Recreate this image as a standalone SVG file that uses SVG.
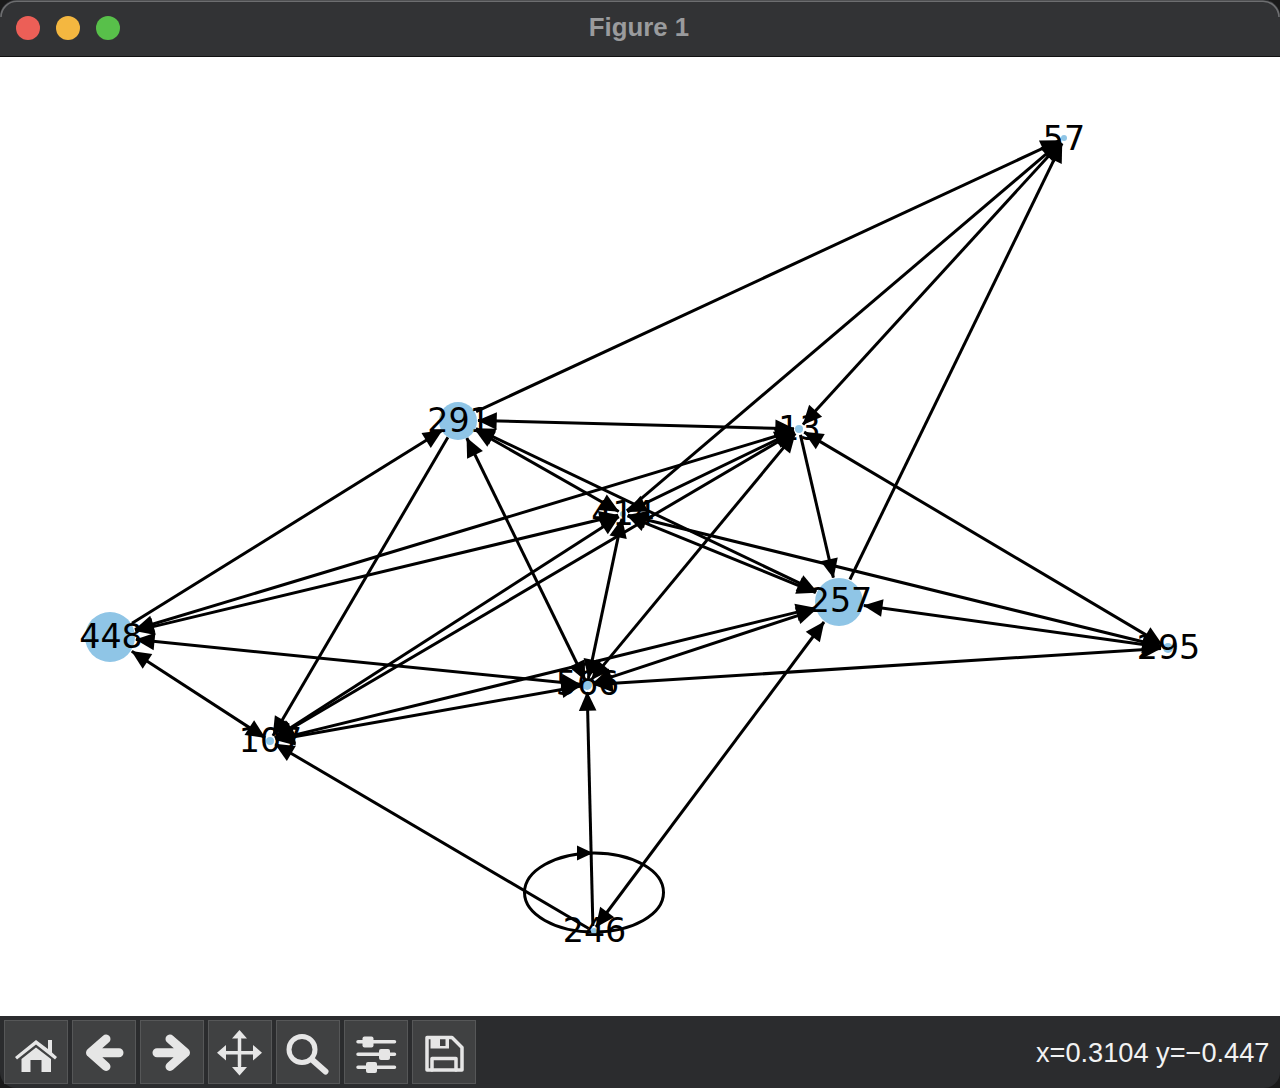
<svg xmlns="http://www.w3.org/2000/svg" width="1280" height="1088" viewBox="0 0 1280 1088">
<style>
.e{stroke:#000;stroke-width:3;fill:none}
.b{marker-start:url(#h);marker-end:url(#h)}
.o{marker-end:url(#h)}
.n{fill:#8fc5e6}
.l{font-family:"DejaVu Sans",sans-serif;font-size:33.3px;fill:#000;text-anchor:middle}
.btn{fill:#404142;stroke:#565758;stroke-width:1}
.ic{fill:#e6e6e6}
.is{stroke:#e6e6e6;fill:none;stroke-linecap:round;stroke-linejoin:round}
</style>
<defs>
<marker id="h" markerUnits="userSpaceOnUse" markerWidth="22" markerHeight="22" viewBox="-1 -10 20 20" refX="17" refY="0" orient="auto-start-reverse"><path d="M0,-8 L17.5,0 L0,8z" fill="#000"/></marker>
</defs>
<rect width="1280" height="1088" fill="#1a1a1a"/>
<rect x="0" y="0" width="1280" height="1088" rx="16" fill="#2b2c2e"/>
<path id="titlebar" d="M0,56V16A16,16 0 0 1 16,0H1264A16,16 0 0 1 1280,16V56Z" fill="#323335"/>
<path d="M1,17A16,16 0 0 1 17,1.2H1263A16,16 0 0 1 1279,17" fill="none" stroke="#6d6e70" stroke-width="1.6"/>
<rect x="0" y="56" width="1280" height="1.5" fill="#111"/>
<circle cx="28" cy="28" r="12" fill="#ec5f57"/>
<circle cx="68" cy="28" r="12" fill="#f4b740"/>
<circle cx="108" cy="28" r="12" fill="#58c04a"/>
<text x="639" y="36" font-family="'Liberation Sans',sans-serif" font-weight="700" font-size="25.8" fill="#9a9b9d" text-anchor="middle">Figure 1</text>
<rect x="0" y="57" width="1280" height="959" fill="#fff"/>

<g id="connectors">
<line class="e o" x1="476.1" y1="411.6" x2="1059.6" y2="140.5"/>
<line class="e o" x1="626.8" y1="510.8" x2="1060.4" y2="141.9"/>
<line class="e b" x1="803" y1="424.6" x2="1061" y2="142.4"/>
<line class="e o" x1="849.9" y1="579.5" x2="1062" y2="143.4"/>
<line class="e b" x1="478" y1="420.5" x2="794" y2="428.8"/>
<line class="e o" x1="132" y1="623.2" x2="442" y2="430.6"/>
<line class="e o" x1="447.9" y1="437.3" x2="273" y2="735.8"/>
<line class="e b" x1="585" y1="680" x2="466.8" y2="438"/>
<line class="e b" x1="475.4" y1="429.9" x2="618.7" y2="511.5"/>
<line class="e b" x1="476" y1="428.6" x2="816.4" y2="591.2"/>
<line class="e b" x1="134.9" y1="629.5" x2="794" y2="430.7"/>
<line class="e b" x1="135.3" y1="630.9" x2="618.1" y2="515.2"/>
<line class="e b" x1="135.9" y1="639.6" x2="580" y2="684.3"/>
<line class="e b" x1="131.8" y1="651.2" x2="265" y2="737.7"/>
<line class="e b" x1="275" y1="737.8" x2="618.8" y2="516.7"/>
<line class="e b" x1="275.2" y1="738" x2="794.5" y2="432"/>
<line class="e b" x1="275.9" y1="740" x2="580.1" y2="686.2"/>
<line class="e b" x1="275.8" y1="739.6" x2="814.7" y2="607.9"/>
<line class="e b" x1="591.5" y1="679.6" x2="795.2" y2="433.6"/>
<line class="e b" x1="588.4" y1="678.1" x2="622" y2="518.9"/>
<line class="e b" x1="593.6" y1="682.8" x2="815.3" y2="609.8"/>
<line class="e b" x1="594" y1="684.6" x2="1161" y2="648.4"/>
<line class="e b" x1="1161.2" y1="646.3" x2="627.9" y2="515.2"/>
<line class="e b" x1="1161.1" y1="647" x2="863.8" y2="605.5"/>
<line class="e b" x1="1162" y1="644.4" x2="804.2" y2="432.1"/>
<line class="e b" x1="627.6" y1="515.9" x2="815.8" y2="592.6"/>
<line class="e o" x1="800.4" y1="434.8" x2="833.4" y2="577.6"/>
<line class="e b" x1="793.6" y1="431.6" x2="627.5" y2="511.8"/>
<line class="e o" x1="592.9" y1="926" x2="587.2" y2="692"/>
<line class="e b" x1="596" y1="927" x2="824" y2="622"/>
<line class="e o" x1="588.7" y1="928.5" x2="275.2" y2="744"/>
<ellipse class="e" cx="594" cy="892.5" rx="69.5" ry="39.5"/>
<path d="M577,845.5 L593,853 L577,860.5z" fill="#000"/>
</g>

<g id="n57"><circle class="n" cx="1064" cy="138" r="3"/><text class="l" x="1064" y="149.5">57</text></g>
<g id="n291"><circle class="n" cx="458" cy="421" r="19"/><text class="l" x="459" y="431.5">291</text></g>
<g id="n13"><circle class="n" cx="799" cy="429" r="4"/><text class="l" x="799.5" y="440">13</text></g>
<g id="n414"><circle class="n" cx="623" cy="514" r="3"/><text class="l" x="623" y="525">414</text></g>
<g id="n257"><circle class="n" cx="839" cy="602" r="24"/><text class="l" x="840.5" y="611.5">257</text></g>
<g id="n448"><circle class="n" cx="110" cy="637" r="25"/><text class="l" x="111" y="647.5">448</text></g>
<g id="n295"><circle class="n" cx="1168" cy="648" r="5"/><text class="l" x="1168.5" y="659">295</text></g>
<g id="n566"><circle class="n" cx="587" cy="685" r="5"/><text class="l" x="587.5" y="694.5">566</text></g>
<g id="n107"><circle class="n" cx="270" cy="741" r="4"/><text class="l" x="270.5" y="751.5">107</text></g>
<g id="n246"><circle class="n" cx="594" cy="931" r="3"/><text class="l" x="594.5" y="942">246</text></g>

<g id="toolbar">
<rect class="btn" x="4.5" y="1020.5" width="63" height="63"/>
<rect class="btn" x="72.5" y="1020.5" width="63" height="63"/>
<rect class="btn" x="140.5" y="1020.5" width="63" height="63"/>
<rect class="btn" x="208.5" y="1020.5" width="63" height="63"/>
<rect class="btn" x="276.5" y="1020.5" width="63" height="63"/>
<rect class="btn" x="344.5" y="1020.5" width="63" height="63"/>
<rect class="btn" x="412.5" y="1020.5" width="63" height="63"/>
<path class="ic" d="M36,1040L48,1049V1040H52V1052.5L57,1057L55,1059.5L36,1044.5L17,1059.5L15,1057Z"/>
<path class="ic" d="M36,1047.5L51,1059V1072H41.5V1060H30.5V1072H21.5V1059Z"/>
<path class="is" stroke-width="9" d="M119,1052.7H91M106,1039L90.5,1052.7L106,1066.5"/>
<path class="is" stroke-width="9" d="M157,1052.7H185M170,1039L185.5,1052.7L170,1066.5"/>
<path class="is" stroke-width="3.5" d="M226,1052.7H253M239.5,1039V1066"/>
<path class="ic" d="M239.5,1030L247,1038.5H232ZM239.5,1075.5L247,1067H232ZM217,1052.7L226,1045V1060.5ZM262,1052.7L253,1045V1060.5Z"/>
<circle class="is" cx="302" cy="1049.5" r="13" stroke-width="5"/>
<path class="is" stroke-width="6" d="M313,1060.5L325.5,1071.5"/>
<path class="is" stroke-width="3.5" d="M358,1041.7H394.5M358,1054.3H394.5M358,1067.3H394.5" stroke-linecap="butt"/>
<rect class="ic" x="362.5" y="1036.5" width="11" height="11" rx="2"/>
<rect class="ic" x="379" y="1049" width="11" height="11" rx="2"/>
<rect class="ic" x="366" y="1062" width="11" height="11" rx="2"/>
<path class="is" stroke-width="3.5" d="M427,1037.5H452L462,1047.5V1070H427Z"/>
<path class="is" stroke-width="3.5" d="M432,1070V1058.5H456V1070"/>
<path class="ic" d="M430.5,1037.5H449V1048.5H430.5ZM440,1038V1046H445.5V1038Z" fill-rule="evenodd"/>
</g>
<text x="1269.5" y="1062" font-family="'Liberation Sans',sans-serif" font-size="27.2" fill="#f2f2f2" text-anchor="end">x=0.3104 y=−0.447</text>
</svg>
